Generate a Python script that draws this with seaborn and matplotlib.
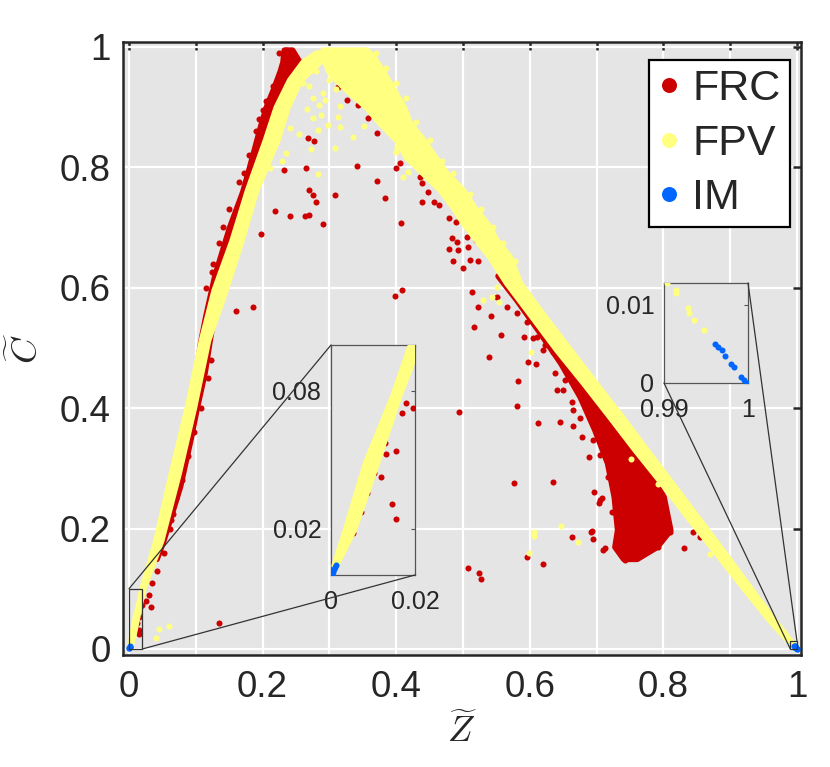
import matplotlib
matplotlib.use("Agg")
import matplotlib.pyplot as plt
from matplotlib.lines import Line2D
from matplotlib.patches import ConnectionPatch, Rectangle
import numpy as np
import pandas as pd
import seaborn as sns

RED = "#cc0000"
YELLOW = "#ffff80"
BLUE = "#0066ff"
BG = "#e5e5e5"
INK = "#262626"

# dense FPV band, left branch: C level, lowest and highest Z of the dot centres
fpv_left_c = [0.004, 0.0196, 0.0487, 0.0774, 0.10, 0.181, 0.292, 0.402, 0.513,
              0.596, 0.679, 0.762, 0.846, 0.90, 0.945, 0.975, 0.99]
fpv_left_lo = [0.0008, 0.0035, 0.0083, 0.0147, 0.019, 0.040, 0.063, 0.087, 0.108,
               0.127, 0.154, 0.177, 0.204, 0.220, 0.240, 0.260, 0.280]
fpv_left_hi = [0.0012, 0.0055, 0.0110, 0.0162, 0.021, 0.048, 0.074, 0.097, 0.118,
               0.144, 0.168, 0.190, 0.222, 0.237, 0.256, 0.285, 0.300]

# dense FPV band, right branch
fpv_right_c = [0.995, 0.983, 0.957, 0.929, 0.90, 0.874, 0.846, 0.817, 0.79, 0.762,
               0.734, 0.708, 0.679, 0.651, 0.608, 0.552, 0.497, 0.442, 0.385, 0.33,
               0.276, 0.22, 0.164, 0.11, 0.053, 0.016]
fpv_right_lo = [0.290, 0.290, 0.300, 0.325, 0.355, 0.375, 0.400, 0.415, 0.440, 0.466,
                0.485, 0.500, 0.520, 0.540, 0.565, 0.603, 0.640, 0.680, 0.720, 0.758,
                0.797, 0.836, 0.876, 0.914, 0.955, 0.985]
fpv_right_hi = [0.355, 0.366, 0.381, 0.396, 0.411, 0.420, 0.440, 0.458, 0.475, 0.500,
                0.516, 0.535, 0.550, 0.570, 0.585, 0.622, 0.660, 0.698, 0.738, 0.775,
                0.812, 0.850, 0.888, 0.924, 0.962, 0.988]

# dense FRC band along the left branch
frc_left_c = [0.15, 0.18, 0.27, 0.35, 0.40, 0.46, 0.51, 0.55, 0.62, 0.70, 0.76,
              0.80, 0.87, 0.90, 0.93, 0.96, 0.975, 0.995]
frc_left_lo = [0.037, 0.043, 0.064, 0.080, 0.090, 0.100, 0.107, 0.114, 0.128, 0.150,
               0.170, 0.180, 0.197, 0.205, 0.216, 0.226, 0.230, 0.232]
frc_left_hi = [0.041, 0.051, 0.076, 0.092, 0.101, 0.113, 0.120, 0.126, 0.140, 0.163,
               0.180, 0.192, 0.210, 0.228, 0.242, 0.250, 0.255, 0.244]

# dense FRC strip under the right branch and the cluster
frc_right_c = [0.62, 0.58, 0.53, 0.475, 0.419, 0.364, 0.309, 0.253, 0.198, 0.17, 0.15]
frc_right_lo = [0.552, 0.580, 0.612, 0.646, 0.675, 0.697, 0.716, 0.726, 0.731, 0.727, 0.740]
frc_right_hi = [0.558, 0.590, 0.630, 0.668, 0.712, 0.735, 0.770, 0.800, 0.810, 0.790, 0.760]

# single points (Z, C)
frc_pts = [
    (0.313, 0.934), (0.326, 0.912), (0.343, 0.904), (0.358, 0.882), (0.371, 0.857),
    (0.268, 0.849), (0.277, 0.844), (0.265, 0.799), (0.341, 0.802), (0.232, 0.796),
    (0.371, 0.777), (0.269, 0.762), (0.275, 0.754), (0.280, 0.743), (0.308, 0.754),
    (0.383, 0.749), (0.219, 0.728), (0.241, 0.719), (0.263, 0.719), (0.269, 0.721),
    (0.290, 0.706), (0.198, 0.689), (0.407, 0.708), (0.400, 0.799), (0.406, 0.807),
    (0.398, 0.586), (0.409, 0.596), (0.186, 0.568), (0.160, 0.561), (0.124, 0.626),
    (0.436, 0.784), (0.439, 0.774), (0.448, 0.759), (0.439, 0.743), (0.457, 0.743),
    (0.464, 0.738), (0.479, 0.716), (0.490, 0.709), (0.484, 0.683), (0.491, 0.676),
    (0.479, 0.664), (0.492, 0.663), (0.507, 0.668), (0.506, 0.684), (0.519, 0.679),
    (0.485, 0.645), (0.500, 0.633), (0.510, 0.646), (0.523, 0.645), (0.513, 0.593),
    (0.522, 0.568), (0.516, 0.535), (0.542, 0.553), (0.557, 0.522), (0.551, 0.585),
    (0.566, 0.568), (0.581, 0.558), (0.596, 0.543), (0.605, 0.517), (0.611, 0.518),
    (0.620, 0.497), (0.591, 0.518), (0.597, 0.477), (0.610, 0.473), (0.539, 0.485),
    (0.582, 0.445), (0.581, 0.404), (0.494, 0.394), (0.612, 0.375), (0.645, 0.377),
    (0.665, 0.370), (0.576, 0.276), (0.635, 0.277), (0.689, 0.319), (0.696, 0.261),
    (0.705, 0.248), (0.663, 0.186), (0.692, 0.194), (0.713, 0.168), (0.596, 0.153),
    (0.620, 0.141), (0.507, 0.135), (0.524, 0.126), (0.527, 0.116), (0.831, 0.168),
    (0.844, 0.194), (0.855, 0.186), (0.885, 0.153), (0.904, 0.131), (0.925, 0.103),
    (0.945, 0.076), (0.665, 0.397), (0.708, 0.251), (0.704, 0.242), (0.693, 0.196),
    (0.694, 0.183), (0.710, 0.164), (0.723, 0.227), (0.717, 0.286), (0.742, 0.148),
    (0.750, 0.161), (0.763, 0.164), (0.792, 0.170), (0.810, 0.194), (0.678, 0.352),
    (0.705, 0.322), (0.650, 0.430), (0.640, 0.430), (0.653, 0.447), (0.638, 0.458),
    (0.623, 0.505), (0.635, 0.493), (0.663, 0.410), (0.675, 0.384), (0.695, 0.347),
    (0.730, 0.269), (0.730, 0.219), (0.745, 0.198), (0.765, 0.186), (0.785, 0.181),
    (0.225, 0.990), (0.235, 0.995), (0.240, 0.985), (0.215, 0.935),
    (0.205, 0.910), (0.200, 0.895), (0.195, 0.880), (0.190, 0.860), (0.180, 0.820),
    (0.172, 0.790), (0.165, 0.775), (0.150, 0.730), (0.140, 0.700), (0.135, 0.675),
    (0.125, 0.640), (0.115, 0.600), (0.122, 0.480), (0.118, 0.450), (0.108, 0.400),
    (0.098, 0.360), (0.088, 0.320), (0.080, 0.280), (0.070, 0.250), (0.062, 0.200),
    (0.052, 0.160), (0.042, 0.130), (0.035, 0.110), (0.030, 0.090), (0.026, 0.080),
    (0.066, 0.224), (0.063, 0.214), (0.033, 0.070), (0.135, 0.043),
    (0.0179, 0.0748), (0.0196, 0.0726), (0.0169, 0.0704), (0.0155, 0.0539),
    (0.0131, 0.0526), (0.0129, 0.0574), (0.0119, 0.0426), (0.0102, 0.0443),
    (0.0145, 0.0309), (0.0155, 0.0243), (0.0086, 0.0357), (0.0071, 0.0274),
    (0.0052, 0.0183),
]
fpv_pts = [
    (0.266, 0.897), (0.276, 0.882), (0.275, 0.915), (0.290, 0.924), (0.285, 0.904),
    (0.287, 0.887), (0.283, 0.862), (0.298, 0.870), (0.313, 0.884), (0.316, 0.867),
    (0.308, 0.832), (0.272, 0.830), (0.235, 0.824), (0.283, 0.789), (0.335, 0.850),
    (0.316, 0.902), (0.254, 0.855), (0.241, 0.865), (0.229, 0.810), (0.211, 0.799),
    (0.352, 0.869), (0.293, 0.912), (0.379, 0.872), (0.401, 0.834), (0.410, 0.784),
    (0.400, 0.826), (0.418, 0.792), (0.530, 0.580), (0.543, 0.585), (0.554, 0.577),
    (0.551, 0.601), (0.602, 0.493), (0.646, 0.204), (0.606, 0.194), (0.607, 0.188),
    (0.599, 0.159), (0.672, 0.178), (0.751, 0.316), (0.870, 0.158), (0.792, 0.274),
    (0.045, 0.033), (0.060, 0.038), (0.040, 0.018), (0.265, 0.955), (0.280, 0.960),
    (0.270, 0.935), (0.300, 0.945), (0.310, 0.930), (0.260, 0.940), (0.370, 0.990),
    (0.384, 0.965), (0.400, 0.940), (0.415, 0.915), (0.430, 0.875), (0.450, 0.845),
    (0.468, 0.810), (0.485, 0.790), (0.510, 0.755), (0.527, 0.730), (0.545, 0.700),
    (0.560, 0.675), (0.578, 0.645),
    (0.9904, 0.0128), (0.9914, 0.0119), (0.9914, 0.0115),
    (0.9928, 0.0096), (0.9930, 0.0090), (0.9936, 0.0081), (0.9948, 0.0068),
]
im_pts = [
    (0.0003, 0.0008), (0.0005, 0.0015), (0.0008, 0.0025), (0.0010, 0.0035),
    (0.0013, 0.0045), (0.9961, 0.0050), (0.9964, 0.0046), (0.9969, 0.0042),
    (0.9973, 0.0035), (0.9980, 0.0024), (0.9983, 0.0020), (0.9992, 0.0008),
    (0.9995, 0.0004), (0.9999, 0.0000),
]

x_ticks = [0, 0.1, 0.2, 0.3, 0.4, 0.5, 0.6, 0.7, 0.8, 0.9, 1.0]
x_labels = ["0", "", "0.2", "", "0.4", "", "0.6", "", "0.8", "", "1"]
y_ticks = [0, 0.2, 0.4, 0.6, 0.8, 1.0]
y_labels = ["0", "0.2", "0.4", "0.6", "0.8", "1"]

sns.set_style("darkgrid", {"axes.facecolor": BG, "grid.color": "white"})
plt.rcParams["font.family"] = ["Liberation Sans", "DejaVu Sans"]
plt.rcParams["mathtext.fontset"] = "cm"

df = pd.concat([
    pd.DataFrame(frc_pts, columns=["Z", "C"]).assign(kind="FRC"),
    pd.DataFrame(fpv_pts, columns=["Z", "C"]).assign(kind="FPV"),
    pd.DataFrame(im_pts, columns=["Z", "C"]).assign(kind="IM"),
])

DOT = 19     # marker area, pt^2 (about 6 px across)
EDGE = 4.3   # stroke on the dense bands so they swell like the dots


def draw_layers(ax):
    ax.fill_betweenx(frc_left_c, frc_left_lo, frc_left_hi, color=RED,
                     lw=EDGE, joinstyle="round", zorder=2)
    ax.fill_betweenx(frc_right_c, frc_right_lo, frc_right_hi, color=RED,
                     lw=EDGE, joinstyle="round", zorder=2)
    sns.scatterplot(data=df[df.kind == "FRC"], x="Z", y="C", color=RED, s=DOT,
                    linewidth=0, legend=False, ax=ax, zorder=3)
    ax.fill_betweenx(fpv_left_c, fpv_left_lo, fpv_left_hi, color=YELLOW,
                     lw=EDGE, joinstyle="round", zorder=4)
    ax.fill_betweenx(fpv_right_c, fpv_right_lo, fpv_right_hi, color=YELLOW,
                     lw=EDGE, joinstyle="round", zorder=4)
    sns.scatterplot(data=df[df.kind == "FPV"], x="Z", y="C", color=YELLOW, s=DOT,
                    linewidth=0, legend=False, ax=ax, zorder=5)
    sns.scatterplot(data=df[df.kind == "IM"], x="Z", y="C", color=BLUE, s=DOT,
                    linewidth=0, legend=False, ax=ax, zorder=6)
    ax.set_xlabel("")
    ax.set_ylabel("")


fig = plt.figure(figsize=(8.3, 7.67), dpi=100)
ax = fig.add_axes([123 / 830, 112 / 767, 678 / 830, 613 / 767])
draw_layers(ax)
ax.set_xlim(-0.009, 1.006)
ax.set_ylim(-0.01, 1.008)
ax.set_xticks(x_ticks)
ax.set_xticklabels(x_labels)
ax.set_yticks(y_ticks)
ax.set_yticklabels(y_labels)
ax.grid(True, color="white", linewidth=1.6)
ax.set_axisbelow(True)
ax.tick_params(direction="in", length=6, width=1.8, color=INK, labelcolor=INK,
               labelsize=26.5, top=True, right=True)
ax.tick_params(axis="x", pad=11)
ax.tick_params(axis="y", pad=9)
for sp in ax.spines.values():
    sp.set_visible(True)
    sp.set_color(INK)
    sp.set_linewidth(1.8)

ax.set_xlabel(r"$\widetilde{Z}$", fontsize=26, color=INK)
ax.set_ylabel(r"$\widetilde{C}$", fontsize=26, color=INK)
ax.xaxis.set_label_coords(0.5, -0.095)
ax.yaxis.set_label_coords(-0.114, 0.5)

handles = [Line2D([], [], ls="", marker="o", ms=10.8, mec="none", mfc=c)
           for c in (RED, YELLOW, BLUE)]
leg = ax.legend(handles, ["FRC", "FPV", "IM"], loc="upper left",
                bbox_to_anchor=(649 / 830, 1 - 60 / 767), bbox_transform=fig.transFigure,
                borderaxespad=0, fontsize=31, frameon=True, fancybox=False,
                framealpha=1, edgecolor="black", facecolor="white",
                handlelength=0.5, handletextpad=0.28, borderpad=0.22,
                labelspacing=0.33)
leg.get_frame().set_linewidth(1.6)
leg.set_zorder(10)


def make_inset(bounds, xlim, ylim, xt, xl, yt, yl):
    axin = fig.add_axes(bounds)
    draw_layers(axin)
    axin.set_facecolor(BG)
    axin.grid(False)
    axin.set_xlim(*xlim)
    axin.set_ylim(*ylim)
    axin.set_xticks(xt)
    axin.set_xticklabels(xl)
    axin.set_yticks(yt)
    axin.set_yticklabels(yl)
    axin.tick_params(direction="in", length=3, width=0.8, color="#555555",
                     labelcolor=INK, labelsize=18, top=True, right=True)
    axin.tick_params(axis="x", pad=11)
    axin.tick_params(axis="y", pad=7)
    for sp in axin.spines.values():
        sp.set_visible(True)
        sp.set_color("#555555")
        sp.set_linewidth(0.9)
    return axin


in1 = make_inset([331 / 830, 192 / 767, 84 / 830, 230 / 767], (0, 0.02), (0, 0.1),
                 [0, 0.02], ["0", "0.02"], [0.02, 0.08], ["0.02", "0.08"])
in2 = make_inset([664 / 830, 384 / 767, 84 / 830, 100 / 767], (0.99, 1.0), (0, 0.0128),
                 [0.99, 1.0], ["0.99", "1"], [0, 0.01], ["0", "0.01"])

# zoom boxes and connector lines
ax.add_patch(Rectangle((0, 0), 0.02, 0.1, fill=False, ec="#333333", lw=0.9, zorder=8))
ax.add_patch(Rectangle((0.99, 0), 0.01, 0.0128, fill=False, ec="#333333", lw=0.9, zorder=8))
for axin, pts in ((in1, [(0, 0.1), (0.02, 0)]), (in2, [(0.99, 0), (1.0, 0.0128)])):
    for p in pts:
        con = ConnectionPatch(xyA=p, coordsA=ax.transData, xyB=p, coordsB=axin.transData,
                              color="#333333", lw=0.9)
        fig.add_artist(con)

fig.savefig("out.png", dpi=100)
